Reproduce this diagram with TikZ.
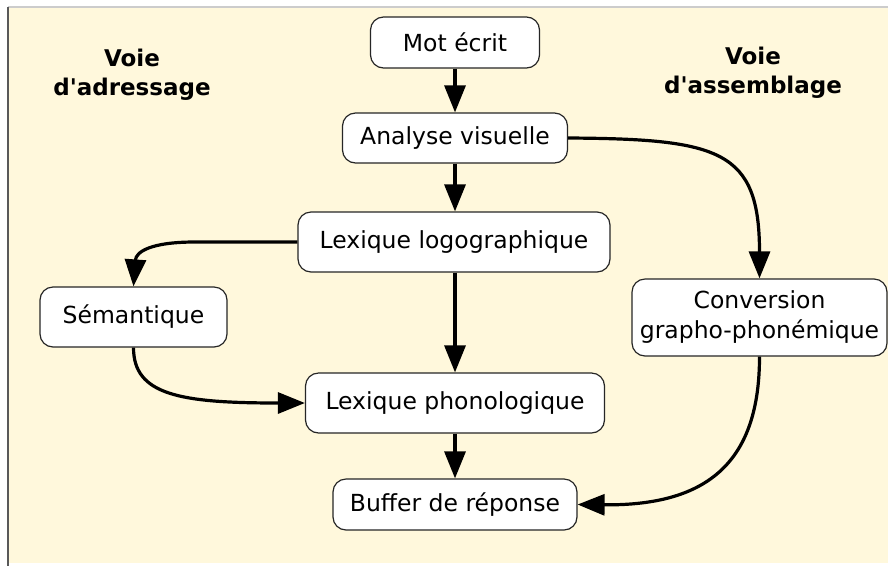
\documentclass[tikz,border=0pt]{standalone}
\usepackage{fontspec}
\setmainfont{DejaVu Sans}
\usetikzlibrary{arrows.meta}
\definecolor{bgcream}{RGB}{255,248,220}
\begin{document}
\begin{tikzpicture}[x=1pt,y=-1pt,
  box/.style={draw=black!85, line width=1.2pt, fill=white, rounded corners=13pt, inner sep=0pt, font=\fontsize{23.5}{30}\selectfont, align=center},
  title/.style={inner sep=0pt, font=\bfseries\fontsize{23}{29}\selectfont, align=center},
  conn/.style={line width=3.2pt, -{Triangle[length=27pt,width=21pt]}}
]
\useasboundingbox (0,0) rectangle (888,566);
\fill[white] (0,0) rectangle (888,566);
\fill[bgcream] (8,7) rectangle (888,563);
\draw[black!20, line width=1.5pt] (8,7) -- (888,7);
\draw[black!65, line width=1.5pt] (8,7) -- (8,566);

\node[title] (tleft) at (132,75) {Voie\\d\textquotesingle adressage};
\node[title] (tright) at (753,73) {Voie\\d\textquotesingle assemblage};

\node[box, minimum width=169pt, minimum height=51pt] (mot) at (455,42.5) {Mot écrit};
\node[box, minimum width=225pt, minimum height=50pt] (ana) at (455,138) {Analyse visuelle};
\node[box, minimum width=312pt, minimum height=60pt] (logo) at (454,242) {Lexique logographique};
\node[box, minimum width=187pt, minimum height=60pt] (sem) at (133.5,317) {Sémantique};
\node[box, minimum width=255pt, minimum height=77pt] (conv) at (759.5,317.5) {Conversion\\grapho-phonémique};
\node[box, minimum width=299pt, minimum height=60pt] (phono) at (455,403) {Lexique phonologique};
\node[box, minimum width=244pt, minimum height=51pt] (buf) at (455,504.5) {Buffer de réponse};

\draw[conn] (mot.south) -- (ana.north);
\draw[conn] (ana.south) -- (ana.south |- logo.north);
\draw[conn] (ana.south |- logo.south) -- (ana.south |- phono.north);
\draw[conn] (ana.south |- phono.south) -- (ana.south |- buf.north);
\draw[conn] (ana.east) .. controls (720,139) and (759.5,150) .. (conv.north);
\draw[conn] (logo.west) -- (195,242) .. controls (150,242) and (136,252) .. (sem.north);
\draw[conn] (sem.south) .. controls (133.5,395) and (180,403) .. (phono.west);
\draw[conn] (conv.south) .. controls (759.5,460) and (710,506) .. (buf.east);
\end{tikzpicture}
\end{document}
